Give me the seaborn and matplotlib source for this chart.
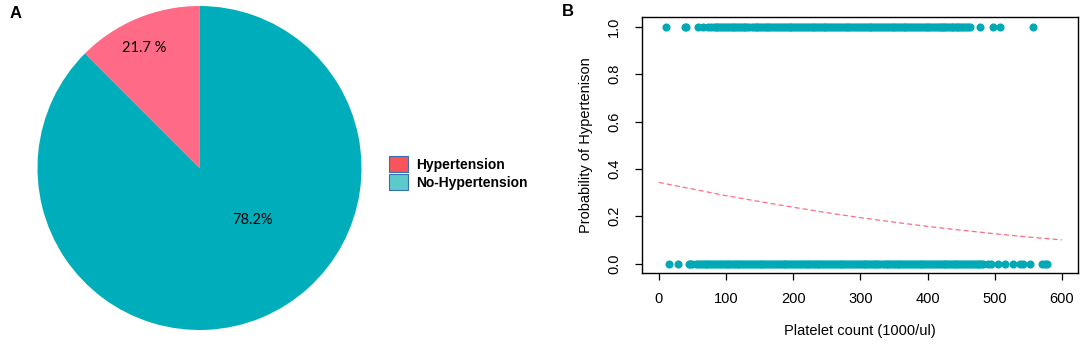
import matplotlib
matplotlib.use("Agg")
import matplotlib.pyplot as plt
import seaborn as sns
import pandas as pd
from matplotlib.patches import Patch

sns.set_style("white")
plt.rcParams['font.family'] = ['Liberation Sans', 'DejaVu Sans']
plt.rcParams['text.color'] = 'black'
plt.rcParams['axes.labelcolor'] = 'black'
plt.rcParams['xtick.color'] = 'black'
plt.rcParams['ytick.color'] = 'black'

# ---------------- data ----------------
pie_categories = ["Hypertension", "No-Hypertension"]
pie_slice_share = [12.5, 87.5]          # slice sizes as drawn in the picture
pie_labels = ["21.7 %", "78.2%"]
pie_colors = ["#FF6B86", "#00AEBB"]
legend_colors = ["#F8545A", "#5CCACA"]

hyper_x = [11, 39, 41, 58, 66, 73, 78,
           82, 85, 87, 90, 93, 96, 98, 101, 104, 107, 110, 112, 115, 118,
           121, 124, 127, 129, 132, 135, 138, 141, 144, 146, 149, 152, 155,
           158, 161, 163, 166, 169, 172, 175, 178, 180, 183, 186, 189, 192,
           195, 197, 200, 203, 206, 209, 212, 214, 217, 220, 223, 226, 229,
           231, 234, 237, 240, 243, 246, 248, 251, 254, 257, 260, 263, 265,
           268, 271, 274, 277, 280, 282, 285, 288, 291, 294, 297, 299, 302,
           305, 308, 311, 314, 316, 319, 322, 325, 328, 331, 333, 336, 339,
           342, 345, 348, 350, 353, 356, 359, 362, 365, 367, 370, 373, 376,
           379, 382, 384, 387, 390, 393, 396, 399, 401, 404, 407, 410, 413,
           415, 418, 420, 423, 425, 428, 430, 433, 436, 438, 441, 444, 446,
           449, 452, 455, 457, 460, 463,
           478, 497, 508, 557]
normo_x = [15, 29, 45, 47, 50,
           56, 59, 61, 64, 67, 70, 72, 75, 78, 81, 84, 86, 89, 92, 95, 98,
           101, 103, 106, 109, 112, 115, 118, 120, 123, 126, 129, 132, 135,
           137, 140, 143, 146, 149, 152, 154, 157, 160, 163, 166, 169, 171,
           174, 177, 180, 183, 186, 188, 191, 194, 197, 200, 203, 205, 208,
           211, 214, 217, 220, 222, 225, 228, 231, 234, 237, 239, 242, 245,
           248, 251, 254, 256, 259, 262, 265, 268, 271, 273, 276, 279, 282,
           285, 288, 290, 293, 296, 299, 302, 305, 307, 310, 313, 316, 319,
           322, 324, 327, 330, 333, 336, 339, 341, 344, 347, 350, 353, 356,
           358, 361, 364, 367, 370, 373, 375, 378, 381, 384, 387, 390, 392,
           395, 398, 401, 404, 407, 409, 412, 415, 418, 421, 424, 426, 429,
           432, 435, 438, 441, 443, 446, 449, 452, 455, 458, 460, 463, 466,
           469, 472, 475, 477, 480, 483,
           490, 495, 505, 515, 527, 537, 542, 552, 570, 575, 578]

curve_x = [0, 50, 100, 150, 200, 250, 300, 350, 400, 450, 500, 550, 600]
curve_p = [0.343, 0.315, 0.287, 0.262, 0.238, 0.215, 0.194, 0.175, 0.157,
           0.141, 0.126, 0.112, 0.100]

x_ticks = [0, 100, 200, 300, 400, 500, 600]
y_ticks = [0.0, 0.2, 0.4, 0.6, 0.8, 1.0]

W, H = 1084, 351
fig = plt.figure(figsize=(W / 100, H / 100), dpi=100)

# ---------------- panel A: pie ----------------
cx, cy, r = 199.5, 168, 162
axA = fig.add_axes([(cx - r) / W, (H - cy - r) / H, 2 * r / W, 2 * r / H])
wedges, _ = axA.pie(pie_slice_share, colors=pie_colors, startangle=90,
                    counterclock=True, radius=1.0,
                    wedgeprops=dict(linewidth=0))
axA.set_xlim(-1, 1)
axA.set_ylim(-1, 1)
axA.set_aspect("equal")
axA.axis("off")
axA.text(-0.34, 0.74, pie_labels[0], ha="center", va="center",
         fontsize=10.5, family=["Lato", "DejaVu Sans"])
axA.text(0.33, -0.32, pie_labels[1], ha="center", va="center",
         fontsize=10.5, family=["Lato", "DejaVu Sans"])

handles = [Patch(facecolor=c, edgecolor="#3a6fb0", linewidth=0.8, label=l)
           for c, l in zip(legend_colors, pie_categories)]
fig.legend(handles=handles, loc="center left",
           bbox_to_anchor=(383 / W, 1 - 173 / H), frameon=False,
           prop=dict(weight="bold", size=10), handlelength=1.4,
           handleheight=1.4, handletextpad=0.6, labelspacing=0.15,
           borderaxespad=0)

fig.text(10 / W, 1 - 14 / H, "A", fontsize=12, fontweight="bold",
         va="center", ha="left")
fig.text(562 / W, 1 - 12 / H, "B", fontsize=12, fontweight="bold",
         va="center", ha="left")

# ---------------- panel B: scatter + curve ----------------
axB = fig.add_axes([642 / W, (H - 273) / H, 436 / W, 256 / H])
pts = pd.DataFrame({
    "platelet": hyper_x + normo_x,
    "prob": [1.0] * len(hyper_x) + [0.0] * len(normo_x),
})
sns.scatterplot(data=pts, x="platelet", y="prob", ax=axB, color="#00A9B5",
                s=34, linewidth=0, legend=False)
crv = pd.DataFrame({"platelet": curve_x, "prob": curve_p})
sns.lineplot(data=crv, x="platelet", y="prob", ax=axB, color="#FF6B86",
             linewidth=0.9, linestyle=(0, (4, 2.5)))

axB.set_xlim(-25, 624)
axB.set_ylim(-0.04, 1.042)
axB.set_xticks(x_ticks)
axB.set_yticks(y_ticks)
axB.set_xticklabels([str(v) for v in x_ticks])
axB.set_yticklabels([f"{v:.1f}" for v in y_ticks], rotation=90, va="center")
axB.tick_params(axis="both", direction="out", length=5, width=0.9,
                labelsize=10.5, color="black", bottom=True, left=True)
axB.tick_params(axis="x", pad=9)
axB.tick_params(axis="y", pad=10)
for sp in axB.spines.values():
    sp.set_visible(True)
    sp.set_color("black")
    sp.set_linewidth(1.0)
axB.set_xlabel("Platelet count (1000/ul)", fontsize=10.5, labelpad=13)
axB.set_ylabel("Probability of Hypertenison", fontsize=10.5, labelpad=10)

fig.savefig("out.png", dpi=100)
